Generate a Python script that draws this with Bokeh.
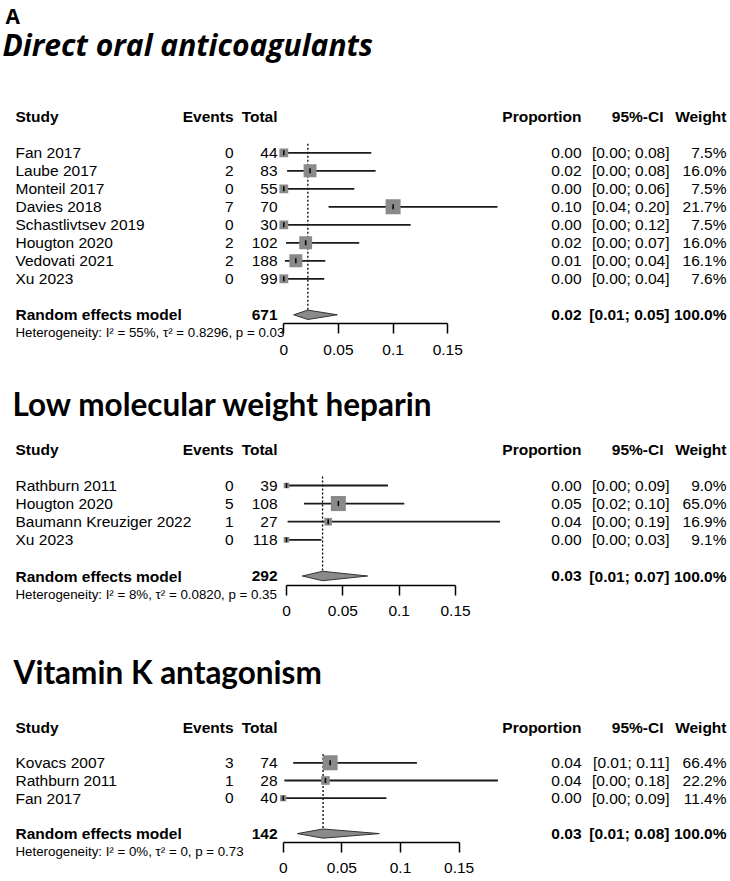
import numpy as np
from bokeh.plotting import figure
from bokeh.models import Range1d, LinearAxis, FixedTicker, NumeralTickFormatter
from bokeh.layouts import column
from bokeh.core.properties import value
from bokeh.embed import file_html
from bokeh.resources import INLINE

# ---------------- data ----------------
PANEL_LABEL = "A"
TICKS = [0, 0.05, 0.1, 0.15]
TICK_LABELS = ["0", "0.05", "0.1", "0.15"]
HEADERS = ["Study", "Events", "Total", "Proportion", "95%-CI", "Weight"]
POOLED_LABEL = "Random effects model"

DOAC_TITLE = "Direct oral anticoagulants"
DOAC_STUDY = ["Fan 2017", "Laube 2017", "Monteil 2017", "Davies 2018",
              "Schastlivtsev 2019", "Hougton 2020", "Vedovati 2021", "Xu 2023"]
DOAC_EVENTS = [0, 2, 0, 7, 0, 2, 2, 0]
DOAC_TOTAL = [44, 83, 55, 70, 30, 102, 188, 99]
DOAC_PROP = [0.0, 0.024, 0.0, 0.100, 0.0, 0.020, 0.011, 0.0]
DOAC_LOWER = [0.0, 0.003, 0.0, 0.041, 0.0, 0.002, 0.001, 0.0]
DOAC_UPPER = [0.080, 0.084, 0.0645, 0.1955, 0.116, 0.069, 0.038, 0.037]
DOAC_WEIGHT = [7.5, 16.0, 7.5, 21.7, 7.5, 16.0, 16.1, 7.6]
DOAC_POOLED = [0.022, 0.009, 0.049]
DOAC_HET = ["55%", "0.8296", "0.03"]

LMWH_TITLE = "Low molecular weight heparin"
LMWH_STUDY = ["Rathburn 2011", "Hougton 2020", "Baumann Kreuziger 2022", "Xu 2023"]
LMWH_EVENTS = [0, 5, 1, 0]
LMWH_TOTAL = [39, 108, 27, 118]
LMWH_PROP = [0.0, 0.046, 0.037, 0.0]
LMWH_LOWER = [0.0, 0.0155, 0.001, 0.0]
LMWH_UPPER = [0.090, 0.1045, 0.1895, 0.031]
LMWH_WEIGHT = [9.0, 65.0, 16.9, 9.1]
LMWH_POOLED = [0.032, 0.014, 0.072]
LMWH_HET = ["8%", "0.0820", "0.35"]

VKA_TITLE = "Vitamin K antagonism"
VKA_STUDY = ["Kovacs 2007", "Rathburn 2011", "Fan 2017"]
VKA_EVENTS = [3, 1, 0]
VKA_TOTAL = [74, 28, 40]
VKA_PROP = [0.040, 0.036, 0.0]
VKA_LOWER = [0.0085, 0.001, 0.0]
VKA_UPPER = [0.114, 0.183, 0.088]
VKA_WEIGHT = [66.4, 22.2, 11.4]
VKA_POOLED = [0.034, 0.012, 0.082]
VKA_HET = ["0%", "0", "0.73"]

# ---------------- style ----------------
FONT = "Liberation Sans"
W = 728
FS = "15.5px"
SQ_COLOR = "#8a8a8a"
LINE_COLOR = "#1a1a1a"

# column right/left edges (px)
C_STUDY, C_EVENTS, C_TOTAL = 15, 233, 277
C_PROP, C_CI_HDR, C_CI, C_WEIGHT = 581, 663, 669, 726


def make_panel(title, study, events, total, prop, lower, upper, weight, pooled,
               het, zero_px, px_per_unit, top_px, height, row0_px, row_px,
               title_base_px, title_left_px, title_style, title_font, title_size,
               label=False):
    n = len(study)

    def X(px):
        return (px - zero_px) / px_per_unit

    def Y(py):
        return (py - row0_px) / row_px

    p = figure(width=W, height=height, output_backend="svg", toolbar_location=None,
               x_range=Range1d(X(0), X(W)),
               y_range=Range1d(Y(top_px + height), Y(top_px)),
               x_axis_location=None, y_axis_location=None, min_border=0)
    p.outline_line_color = None
    p.grid.visible = False
    p.background_fill_color = "white"
    p.border_fill_color = "white"

    rows = list(range(n))
    pooled_row = n + 1

    def txt(xs, ys, texts, align="left", bold=False, size=FS, font=FONT,
            baseline="middle", style=None):
        st = style if style is not None else ("bold" if bold else "normal")
        p.text(x=xs, y=ys, text=texts, text_font=value(font), text_font_size=size,
               text_font_style=st, text_align=align, text_baseline=baseline,
               text_color="black")

    # titles
    if label:
        txt([X(5)], [Y(15.3)], [PANEL_LABEL], bold=True, size="21px",
            font="Open Sans", baseline="alphabetic")
    txt([X(title_left_px)], [Y(title_base_px)], [title], size=title_size,
        font=title_font, baseline="alphabetic", style=title_style)

    # header
    hy = -2
    txt([X(C_STUDY)], [hy], [HEADERS[0]], bold=True)
    txt([X(C_EVENTS), X(C_TOTAL), X(C_PROP), X(C_CI_HDR), X(C_WEIGHT)], [hy] * 5,
        HEADERS[1:], align="right", bold=True)

    # study rows
    txt([X(C_STUDY)] * n, rows, study)
    txt([X(C_EVENTS)] * n, rows, [str(e) for e in events], align="right")
    txt([X(C_TOTAL)] * n, rows, [str(t) for t in total], align="right")
    txt([X(C_PROP)] * n, rows, ["%.2f" % v for v in prop], align="right")
    txt([X(C_CI)] * n, rows, ["[%.2f; %.2f]" % (a, b) for a, b in zip(lower, upper)],
        align="right")
    txt([X(C_WEIGHT)] * n, rows, ["%.1f%%" % w for w in weight], align="right")

    # pooled row
    est, plo, pup = pooled
    txt([X(C_STUDY)], [pooled_row], [POOLED_LABEL], bold=True)
    txt([X(C_TOTAL)], [pooled_row], [str(sum(total))], align="right", bold=True)
    txt([X(C_PROP)], [pooled_row], ["%.2f" % est], align="right", bold=True)
    txt([X(C_CI)], [pooled_row], ["[%.2f; %.2f]" % (plo, pup)], align="right", bold=True)
    txt([X(C_WEIGHT)], [pooled_row], ["%.1f%%" % 100.0], align="right", bold=True)

    # heterogeneity
    het_text = "Heterogeneity: I\u00b2 = %s, \u03c4\u00b2 = %s, p = %s" % tuple(het)
    txt([X(C_STUDY)], [n + 2], [het_text], size="13.3px")

    # reference line
    p.segment(x0=[est], y0=[-0.5], x1=[est], y1=[pooled_row], line_color="black",
              line_width=1.3, line_dash="2 2")

    # CI lines
    p.segment(x0=lower, y0=rows, x1=upper, y1=rows, line_color=LINE_COLOR,
              line_width=1.8)
    # squares
    wmax = max(weight)
    sizes = [15.0 * np.sqrt(w / wmax) for w in weight]
    p.scatter(x=prop, y=rows, size=sizes, marker="square", fill_color=SQ_COLOR,
              line_color=None)
    p.scatter(x=prop, y=rows, size=5, marker="dash", angle=np.pi / 2,
              line_color="black", line_width=1.5)

    # diamond
    h = 0.26
    p.patch(x=[plo, est, pup, est], y=[pooled_row, pooled_row - h, pooled_row, pooled_row + h],
            fill_color=SQ_COLOR, line_color="#333333", line_width=1)

    # axis
    ax = LinearAxis(fixed_location=n + 1.5, bounds=(0, 0.15),
                    ticker=FixedTicker(ticks=TICKS),
                    formatter=NumeralTickFormatter(format="0.[00]"),
                    major_label_overrides=dict(zip(TICKS, TICK_LABELS)))
    ax.axis_line_color = "black"
    ax.axis_line_width = 1.5
    ax.major_tick_line_color = "black"
    ax.major_tick_line_width = 1.5
    ax.major_tick_out = 10
    ax.major_tick_in = 0
    ax.minor_tick_out = 0
    ax.minor_tick_in = 0
    ax.major_label_standoff = 11
    ax.major_label_text_font = FONT
    ax.major_label_text_font_size = "15.5px"
    ax.major_label_text_color = "black"
    p.add_layout(ax, "below")
    return p


p1 = make_panel(DOAC_TITLE, DOAC_STUDY, DOAC_EVENTS, DOAC_TOTAL, DOAC_PROP,
                DOAC_LOWER, DOAC_UPPER, DOAC_WEIGHT, DOAC_POOLED, DOAC_HET,
                zero_px=283.3, px_per_unit=1093.0, top_px=0, height=368,
                row0_px=152.3, row_px=18.0, title_base_px=44.3, title_left_px=2,
                title_style="bold italic", title_font="Open Sans", title_size="30px",
                label=True)
p2 = make_panel(LMWH_TITLE, LMWH_STUDY, LMWH_EVENTS, LMWH_TOTAL, LMWH_PROP,
                LMWH_LOWER, LMWH_UPPER, LMWH_WEIGHT, LMWH_POOLED, LMWH_HET,
                zero_px=286.0, px_per_unit=1127.0, top_px=368, height=272,
                row0_px=485.0, row_px=18.1, title_base_px=403.0, title_left_px=12,
                title_style="bold", title_font="Lato", title_size="31.5px")
p3 = make_panel(VKA_TITLE, VKA_STUDY, VKA_EVENTS, VKA_TOTAL, VKA_PROP,
                VKA_LOWER, VKA_UPPER, VKA_WEIGHT, VKA_POOLED, VKA_HET,
                zero_px=282.7, px_per_unit=1173.0, top_px=640, height=239,
                row0_px=762.3, row_px=17.7, title_base_px=671.3, title_left_px=13,
                title_style="bold", title_font="Lato", title_size="31.5px")

layout = column(p1, p2, p3)
open("out.html", "w").write(file_html(layout, INLINE))
